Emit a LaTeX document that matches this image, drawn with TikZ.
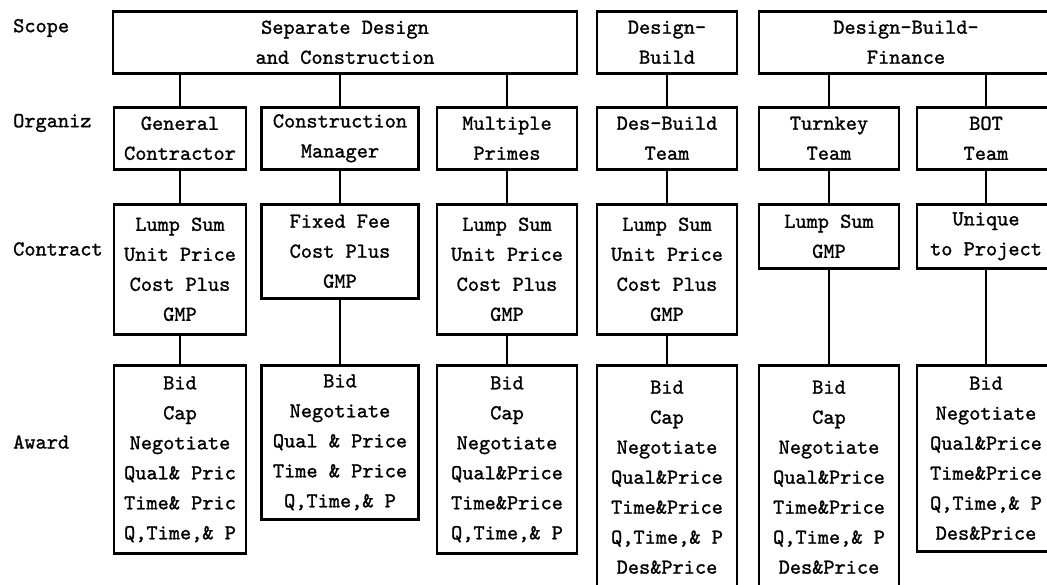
\documentclass[tikz,border=0pt]{standalone}
\usepackage{fontspec}
\setmonofont{lmmono10-regular.otf}[FakeBold=1.2]
\begin{document}
\begin{tikzpicture}[x=1pt, y=-1pt,
	box/.style={draw=black, line width=2.6pt, align=center, anchor=north, inner sep=2pt,
		font=\ttfamily\fontsize{21.3}{30}\selectfont},
	rowlbl/.style={anchor=west, inner sep=0pt, font=\ttfamily\fontsize{21.3}{30}\selectfont},
	link/.style={line width=2.4pt}]
	\path[use as bounding box, clip] (0,0) rectangle (1047,584);
	% row labels
	\node[rowlbl] (lscope) at (13,28) {Scope};
	\node[rowlbl] (lorg) at (13,123) {Organiz};
	\node[rowlbl] (lcon) at (13,249) {Contract};
	\node[rowlbl] (lawd) at (13,442) {Award};
	% scope
	\node[box, minimum width=464, minimum height=62] (sep) at (345,10) {Separate Design\\and Construction};
	\node[box, minimum width=140, minimum height=62] (db) at (667,10) {Design-\\Build};
	\node[box, minimum width=294, minimum height=62] (dbf) at (906,10) {Design-Build-\\Finance};
	% organization
	\node[box, minimum width=132, minimum height=62] (org1) at (180,106) {General\\Contractor};
	\node[box, minimum width=157, minimum height=62] (org2) at (340,106) {Construction\\Manager};
	\node[box, minimum width=140, minimum height=62] (org3) at (507,106) {Multiple\\Primes};
	\node[box, minimum width=140, minimum height=62] (org4) at (667,106) {Des-Build\\Team};
	\node[box, minimum width=140, minimum height=62] (org5) at (829,106) {Turnkey\\Team};
	\node[box, minimum width=138, minimum height=62] (org6) at (986,106) {BOT\\Team};
	% contract
	\node[box, minimum width=132, minimum height=130] (con1) at (180,203) {Lump Sum\\Unit Price\\Cost Plus\\GMP};
	\node[box, minimum width=157, minimum height=94] (con2) at (340,203) {Fixed Fee\\Cost Plus\\GMP};
	\node[box, minimum width=140, minimum height=130] (con3) at (507,203) {Lump Sum\\Unit Price\\Cost Plus\\GMP};
	\node[box, minimum width=140, minimum height=130] (con4) at (667,203) {Lump Sum\\Unit Price\\Cost Plus\\GMP};
	\node[box, minimum width=140, minimum height=64] (con5) at (829,203) {Lump Sum\\GMP};
	\node[box, minimum width=138, minimum height=64] (con6) at (986,203) {Unique\\to Project};
	% award
	\node[box, minimum width=132, minimum height=188] (awd1) at (180,364) {Bid\\Cap\\Negotiate\\Qual\& Pric\\Time\& Pric\\Q,Time,\& P};
	\node[box, minimum width=157, minimum height=154] (awd2) at (340,364) {Bid\\Negotiate\\Qual \& Price\\Time \& Price\\Q,Time,\& P};
	\node[box, minimum width=140, minimum height=188] (awd3) at (507,364) {Bid\\Cap\\Negotiate\\Qual\&Price\\Time\&Price\\Q,Time,\& P};
	\node[box, minimum width=140, minimum height=224] (awd4) at (667,364) {Bid\\Cap\\Negotiate\\Qual\&Price\\Time\&Price\\Q,Time,\& P\\Des\&Price};
	\node[box, minimum width=140, minimum height=224] (awd5) at (829,364) {Bid\\Cap\\Negotiate\\Qual\&Price\\Time\&Price\\Q,Time,\& P\\Des\&Price};
	\node[box, minimum width=138, minimum height=186] (awd6) at (986,364) {Bid\\Negotiate\\Qual\&Price\\Time\&Price\\Q,Time,\& P\\Des\&Price};
	% connectors
	\foreach \i/\p in {1/sep,2/sep,3/sep,4/db,5/dbf,6/dbf}
		\draw[link] (org\i.north |- \p.south) -- (org\i.north);
	\foreach \i in {1,...,6} {
		\draw[link] (org\i.south) -- (con\i.north);
		\draw[link] (con\i.south) -- (awd\i.north);
	}
\end{tikzpicture}
\end{document}
